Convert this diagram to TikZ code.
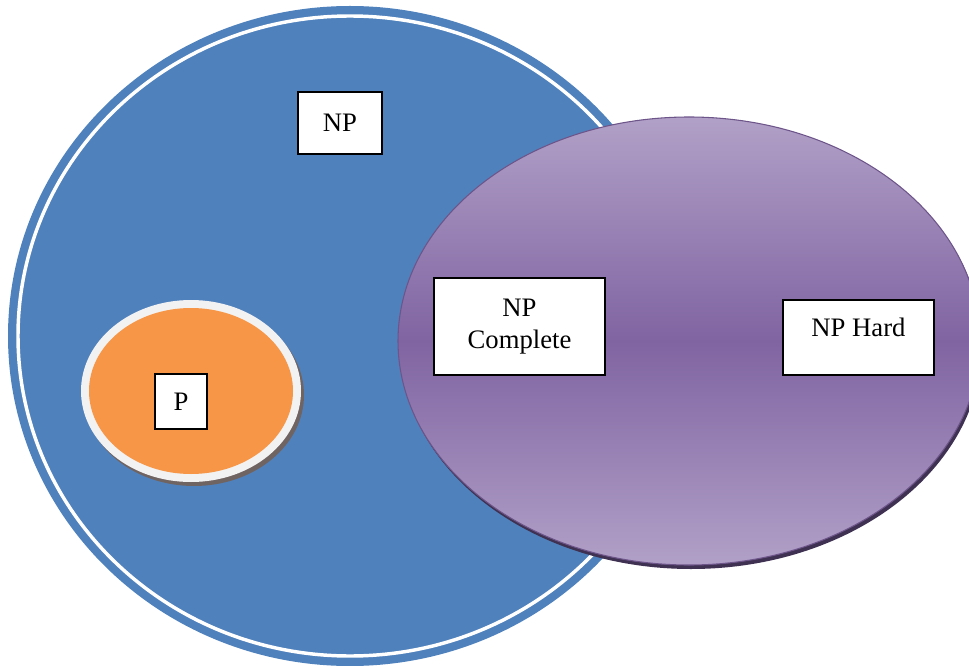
\documentclass[tikz,border=0pt]{standalone}
\usepackage{fontspec}
\setmainfont{Liberation Serif}
\usepackage{xcolor}
\usepackage{tikz}
\definecolor{NPBlue}{RGB}{79,129,189}
\definecolor{PRingWhite}{RGB}{242,242,242}
\definecolor{POrange}{RGB}{247,150,70}
\definecolor{PShadow}{RGB}{112,100,98}
\definecolor{HardLight}{RGB}{177,160,199}
\definecolor{HardMid}{RGB}{128,100,162}
\definecolor{HardShadow}{RGB}{63,49,81}

\begin{document}
\begin{tikzpicture}[x=0.75pt,y=-0.75pt,
    classbox/.style={draw=black,fill=white,line width=1.1pt,align=center,
      inner sep=0pt,font=\fontsize{20}{24}\selectfont}]
  \useasboundingbox (0,0) rectangle (969,666);
  \fill[NPBlue] (350,336) ellipse [x radius=342,y radius=330];
  \draw[white,line width=2.6pt] (350,336) ellipse [x radius=332,y radius=320];
  \fill[PShadow] (194,395) ellipse [x radius=110,y radius=91];
  \fill[PRingWhite] (191,391) ellipse [x radius=110,y radius=91];
  \fill[POrange] (191,391) ellipse [x radius=102,y radius=83];
  \fill[HardShadow] (691,345) ellipse [x radius=291,y radius=224];
  \shade[top color=HardLight,bottom color=HardLight,middle color=HardMid,
         draw=HardMid!85!black,line width=0.8pt] (689,341) ellipse [x radius=291,y radius=224];
  \node[classbox,minimum width=63pt,minimum height=46.5pt] (np) at (340,123) {NP};
  \node[classbox,minimum width=128pt,minimum height=72.75pt] (npc) at (519.5,326.5) {NP\\Complete};
  \node[classbox,minimum width=113pt,minimum height=56.25pt,
        text height=14pt,text depth=15.8pt] (nph) at (858.5,337.5) {NP Hard};
  \node[classbox,minimum width=39pt,minimum height=41.25pt] (p) at (181,401.5) {P};
\end{tikzpicture}
\end{document}
